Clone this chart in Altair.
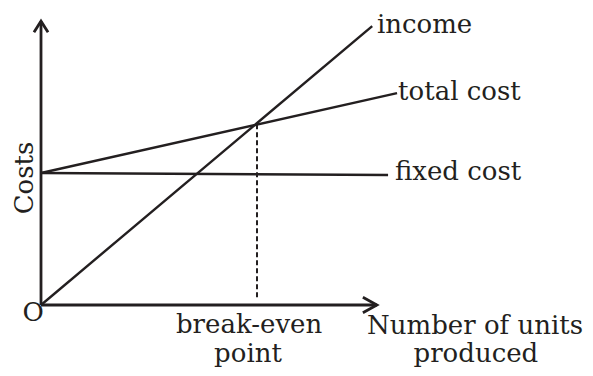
import altair as alt
import pandas as pd

# ---- data (units produced on x, costs on y) ----
income_x = [0.0, 9.2]
income_y = [0.0, 8.45]
total_x = [0.0, 9.89]
total_y = [4.0, 6.42]
fixed_x = [0.0, 9.64]
fixed_y = [4.0, 3.94]
breakeven_x = [6.0, 6.0]
breakeven_y = [5.48, 0.15]
xaxis_x = [0.0, 9.33]
xaxis_y = [0.0, 0.0]
yaxis_x = [0.0, 0.0]
yaxis_y = [0.0, 8.6]

label_text = ["income", "total cost", "fixed cost"]
label_x = [9.33, 9.92, 9.83]
label_y = [8.24, 6.21, 3.79]

INK = "#231f20"
FONT = "DejaVu Serif"
FS = 26

xs = alt.Scale(domain=[-0.9167, 15.111], nice=False, zero=False)
ys = alt.Scale(domain=[-1.909, 9.0], nice=False, zero=False)


def seg(xv, yv):
    return pd.DataFrame({"x": xv, "y": yv, "o": list(range(len(xv)))})


def line(xv, yv, width=2.4, dash=None):
    kw = dict(color=INK, strokeWidth=width, clip=False)
    if dash:
        kw["strokeDash"] = dash
    return alt.Chart(seg(xv, yv)).mark_line(**kw).encode(
        x=alt.X("x:Q", scale=xs, axis=None),
        y=alt.Y("y:Q", scale=ys, axis=None),
        order="o:Q",
    )


layers = [
    line(yaxis_x, yaxis_y, 2.8),
    line(xaxis_x, xaxis_y, 2.8),
    line(fixed_x, fixed_y),
    line(total_x, total_y),
    line(income_x, income_y),
    line(breakeven_x, breakeven_y, 2.0, [5, 3]),
]

# arrow heads at the axis ends
up_arrow = alt.Chart(pd.DataFrame({"x": [yaxis_x[1]], "y": [yaxis_y[1]]})).mark_point(
    shape="M -0.64 1 L 0 0 L 0.64 1", size=484, filled=False, stroke=INK,
    strokeWidth=2.8, opacity=1,
).encode(x=alt.X("x:Q", scale=xs, axis=None), y=alt.Y("y:Q", scale=ys, axis=None))
right_arrow = alt.Chart(pd.DataFrame({"x": [xaxis_x[1]], "y": [xaxis_y[1]]})).mark_point(
    shape="M -1 -0.55 L 0 0 L -1 0.55", size=784, filled=False, stroke=INK,
    strokeWidth=2.8, opacity=1,
).encode(x=alt.X("x:Q", scale=xs, axis=None), y=alt.Y("y:Q", scale=ys, axis=None))
layers += [up_arrow, right_arrow]

# line labels
labels = alt.Chart(pd.DataFrame({"t": label_text, "x": label_x, "y": label_y})).mark_text(
    align="left", baseline="alphabetic", font=FONT, fontSize=FS, color=INK,
).encode(x=alt.X("x:Q", scale=xs, axis=None), y=alt.Y("y:Q", scale=ys, axis=None), text="t:N")
layers.append(labels)

# axis annotations
center_text = ["O", "break-even", "point", "produced"]
center_x = [-0.22, 5.78, 5.75, 12.08]
center_y = [-0.48, -0.848, -1.742, -1.742]
centered = alt.Chart(pd.DataFrame({"t": center_text, "x": center_x, "y": center_y})).mark_text(
    align="center", baseline="alphabetic", font=FONT, fontSize=FS, color=INK,
).encode(x=alt.X("x:Q", scale=xs, axis=None), y=alt.Y("y:Q", scale=ys, axis=None), text="t:N")
layers.append(centered)

xtitle = alt.Chart(pd.DataFrame({"t": ["Number of units"], "x": [9.056], "y": [-0.879]})).mark_text(
    align="left", baseline="alphabetic", font=FONT, fontSize=FS, color=INK,
).encode(x=alt.X("x:Q", scale=xs, axis=None), y=alt.Y("y:Q", scale=ys, axis=None), text="t:N")
ytitle = alt.Chart(pd.DataFrame({"t": ["Costs"], "x": [-0.22], "y": [3.85]})).mark_text(
    align="center", baseline="alphabetic", angle=270, font=FONT, fontSize=FS, color=INK,
).encode(x=alt.X("x:Q", scale=xs, axis=None), y=alt.Y("y:Q", scale=ys, axis=None), text="t:N")
layers += [xtitle, ytitle]

chart = alt.layer(*layers).properties(
    width=577, height=360, padding=0,
    autosize=alt.AutoSizeParams(type="none"),
    background="white",
).configure_view(stroke=None)

chart.save("out.html", embed_options={"renderer": "svg", "actions": False})
